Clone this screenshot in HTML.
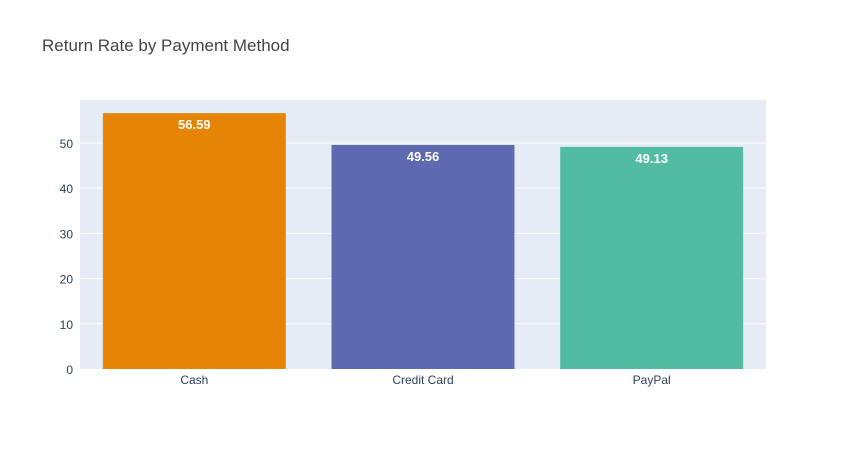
<!DOCTYPE html>
<html><head><meta charset="utf-8">
<style>
body{margin:0;background:#fff;font-family:"Liberation Sans",Arial,sans-serif;}
svg text{font-family:"Liberation Sans",Arial,sans-serif;}
</style></head>
<body>
<svg id="chart" width="845" height="450" xmlns="http://www.w3.org/2000/svg">
<rect width="845" height="450" fill="#fff"/>
<text x="42" y="51" font-size="17" fill="#444">Return Rate by Payment Method</text>
<rect x="80" y="100" width="686" height="269" fill="#e5ecf6"/>
<g id="grid"></g>
<g id="bars"></g>
<g id="labels"></g>
</svg>
<script>
const categories = ["Cash", "Credit Card", "PayPal"];
const values = [56.59, 49.56, 49.13];
const valueLabels = ["56.59", "49.56", "49.13"];
const yTicks = [0, 10, 20, 30, 40, 50];
const colors = ["#e68405", "#5d69b1", "#52bca3"];

const X0 = 80, W = 686, Y0 = 369, H = 269, YMAX = 59.5;
const ns = "http://www.w3.org/2000/svg";
function y(v){ return Y0 - v / YMAX * H; }
function xBand(i){ return X0 + W / categories.length * i; }
const band = W / categories.length;

const grid = document.getElementById('grid');
yTicks.forEach(t => {
  if (t > 0) {
    const l = document.createElementNS(ns, 'line');
    l.setAttribute('x1', X0); l.setAttribute('x2', X0 + W);
    l.setAttribute('y1', y(t)); l.setAttribute('y2', y(t));
    l.setAttribute('stroke', '#fff'); l.setAttribute('stroke-width', '1');
    
    
    grid.appendChild(l);
  }
  const tx = document.createElementNS(ns, 'text');
  tx.setAttribute('x', X0 - 7); tx.setAttribute('y', y(t) + 5);
  tx.setAttribute('text-anchor', 'end'); tx.setAttribute('font-size', '12');
  tx.setAttribute('fill', '#2a3f5f');
  tx.textContent = t;
  
  
  grid.appendChild(tx);
});

const bars = document.getElementById('bars');
const labels = document.getElementById('labels');
categories.forEach((c, i) => {
  const bx = xBand(i) + band * 0.1, bw = band * 0.8;
  const r = document.createElementNS(ns, 'rect');
  r.setAttribute('x', bx); r.setAttribute('width', bw);
  r.setAttribute('y', y(values[i])); r.setAttribute('height', Y0 - y(values[i]));
  r.setAttribute('fill', colors[i]);
  
  
  bars.appendChild(r);

  const vt = document.createElementNS(ns, 'text');
  vt.setAttribute('x', bx + bw / 2); vt.setAttribute('y', y(values[i]) + 16);
  vt.setAttribute('text-anchor', 'middle'); vt.setAttribute('font-size', '13');
  vt.setAttribute('font-weight', 'bold');
  vt.setAttribute('fill', '#fff');
  vt.textContent = valueLabels[i];
  
  
  labels.appendChild(vt);

  const xt = document.createElementNS(ns, 'text');
  xt.setAttribute('x', bx + bw / 2); xt.setAttribute('y', Y0 + 15);
  xt.setAttribute('text-anchor', 'middle'); xt.setAttribute('font-size', '12');
  xt.setAttribute('fill', '#2a3f5f');
  xt.textContent = c;
  
  
  labels.appendChild(xt);
});
</script>
</body></html>
